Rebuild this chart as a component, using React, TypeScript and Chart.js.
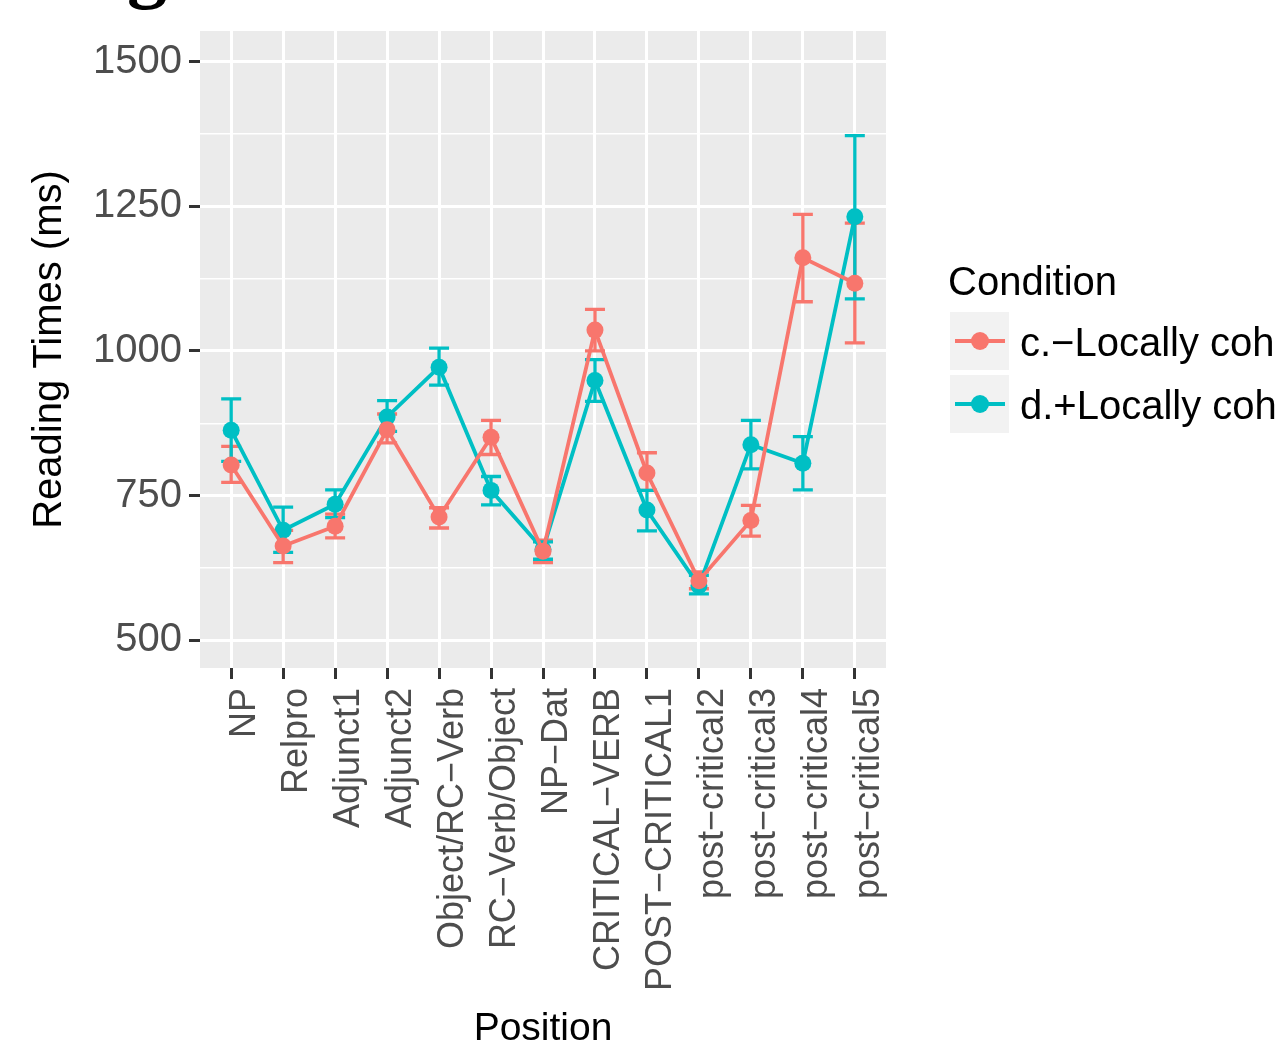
import React, { useEffect, useRef } from 'react';
import { Chart, registerables } from 'chart.js';

Chart.register(...registerables);

const categories = [
  'NP', 'Relpro', 'Adjunct1', 'Adjunct2', 'Object/RC\u2212Verb', 'RC\u2212Verb/Object', 'NP\u2212Dat',
  'CRITICAL\u2212VERB', 'POST\u2212CRITICAL1', 'post\u2212critical2', 'post\u2212critical3', 'post\u2212critical4', 'post\u2212critical5',
];
const seriesNames = ['c.\u2212Locally coh', 'd.+Locally coh'];
const legendTitle = 'Condition';

const redMean = [803, 663, 697, 864, 713, 851, 654, 1036, 789, 603, 707, 1161, 1117];
const redLow = [773, 634, 677, 841, 694, 821, 634, 1000, 759, 589, 680, 1085, 1014];
const redHigh = [835, 690, 718, 891, 729, 880, 673, 1072, 824, 618, 733, 1236, 1221];

const tealMean = [863, 690, 735, 886, 972, 759, 657, 949, 725, 594, 838, 806, 1232];
const tealLow = [809, 652, 712, 861, 941, 734, 640, 913, 689, 580, 796, 760, 1090];
const tealHigh = [917, 730, 760, 914, 1005, 783, 670, 985, 759, 612, 880, 852, 1372];

const yTicks = [500, 625, 750, 875, 1000, 1125, 1250, 1375, 1500];
const yMajor = [500, 750, 1000, 1250, 1500];

const RED = '#F8766D';
const TEAL = '#00BFC4';
const FONT = '"Liberation Sans", Arial, sans-serif';

const panelBg = {
  id: 'panelBg',
  beforeDraw(chart: any) {
    const { ctx, chartArea: a } = chart;
    ctx.save();
    ctx.fillStyle = '#EBEBEB';
    ctx.fillRect(a.left, a.top, a.right - a.left, a.bottom - a.top);
    ctx.restore();
  },
};

const errorBars = {
  id: 'errorBars',
  beforeDatasetsDraw(chart: any) {
    const { ctx } = chart;
    const x = chart.scales.x;
    const y = chart.scales.y;
    const sets: [number[], number[], string][] = [
      [redLow, redHigh, RED],
      [tealLow, tealHigh, TEAL],
    ];
    ctx.save();
    ctx.lineWidth = 3.3;
    sets.forEach(([lo, hi, col]) => {
      ctx.strokeStyle = col;
      lo.forEach((l, i) => {
        const px = x.getPixelForValue(i);
        const y1 = y.getPixelForValue(l);
        const y2 = y.getPixelForValue(hi[i]);
        ctx.beginPath();
        ctx.moveTo(px, y1);
        ctx.lineTo(px, y2);
        ctx.moveTo(px - 10, y1);
        ctx.lineTo(px + 10, y1);
        ctx.moveTo(px - 10, y2);
        ctx.lineTo(px + 10, y2);
        ctx.stroke();
      });
    });
    ctx.restore();
  },
};

const legendAndExtras = {
  id: 'legendAndExtras',
  afterDraw(chart: any) {
    const { ctx } = chart;
    ctx.save();
    // cut-off heading glyph at the top left
    ctx.fillStyle = '#000';
    ctx.font = 'bold 80px "Liberation Serif", serif';
    ctx.textBaseline = 'alphabetic';
    ctx.textAlign = 'left';
    ctx.fillText('g', 127, -7);

    ctx.font = `40px ${FONT}`;
    ctx.fillText(legendTitle, 948, 295);
    const rows = [
      { y0: 312, color: RED, label: seriesNames[0] },
      { y0: 375, color: TEAL, label: seriesNames[1] },
    ];
    rows.forEach((r) => {
      ctx.fillStyle = '#F2F2F2';
      ctx.fillRect(950, r.y0, 59, 58);
      const cy = r.y0 + 29;
      ctx.strokeStyle = r.color;
      ctx.lineWidth = 3.8;
      ctx.beginPath();
      ctx.moveTo(955, cy);
      ctx.lineTo(1005, cy);
      ctx.stroke();
      ctx.fillStyle = r.color;
      ctx.beginPath();
      ctx.arc(980, cy, 9, 0, Math.PI * 2);
      ctx.fill();
      ctx.fillStyle = '#000';
      ctx.font = `40px ${FONT}`;
      ctx.fillText(r.label, 1020, cy + 15);
    });
    ctx.restore();
  },
};

export default function App() {
  const ref = useRef<HTMLCanvasElement | null>(null);

  useEffect(() => {
    if (!ref.current) return;
    const mk = (vals: number[]) => vals.map((v, i) => ({ x: i, y: v }));
    const chart = new Chart(ref.current, {
      type: 'line',
      data: {
        datasets: [
          {
            label: seriesNames[0],
            data: mk(redMean),
            borderColor: RED,
            backgroundColor: RED,
            borderWidth: 3.8,
            pointRadius: 8.5,
            pointBorderWidth: 0,
            pointBackgroundColor: RED,
            tension: 0,
          },
          {
            label: seriesNames[1],
            data: mk(tealMean),
            borderColor: TEAL,
            backgroundColor: TEAL,
            borderWidth: 3.8,
            pointRadius: 8.5,
            pointBorderWidth: 0,
            pointBackgroundColor: TEAL,
            tension: 0,
          },
        ],
      },
      options: {
        responsive: false,
        maintainAspectRatio: false,
        animation: false,
        devicePixelRatio: 1,
        layout: { padding: { top: 30, right: 392, left: 0, bottom: 0 } },
        plugins: { legend: { display: false }, tooltip: { enabled: false } },
        scales: {
          x: {
            type: 'linear',
            min: -0.6,
            max: 12.6,
            afterBuildTicks: (s: any) => {
              s.ticks = categories.map((_, i) => ({ value: i }));
            },
            afterFit: (s: any) => {
              s.height = 376;
            },
            ticks: {
              autoSkip: false,
              maxRotation: 90,
              minRotation: 90,
              padding: 9,
              labelOffset: 14,
              color: '#4D4D4D',
              font: { family: FONT, size: 36 },
              callback: (v: any) => categories[Math.round(Number(v))] ?? '',
            },
            grid: {
              color: '#FFFFFF',
              lineWidth: 3,
              tickLength: 11,
              tickColor: '#333333',
              tickWidth: 3,
            },
            border: { display: false },
            title: {
              display: true,
              text: 'Position',
              color: '#000000',
              font: { family: FONT, size: 39, lineHeight: 1 },
              padding: { top: 0, bottom: -5 },
            },
          },
          y: {
            type: 'linear',
            min: 452,
            max: 1553,
            afterBuildTicks: (s: any) => {
              s.ticks = yTicks.map((v) => ({ value: v }));
            },
            afterFit: (s: any) => {
              s.width = 200;
            },
            ticks: {
              autoSkip: false,
              padding: 7,
              color: '#4D4D4D',
              font: { family: FONT, size: 40 },
              callback: (v: any) => (yMajor.includes(Number(v)) ? String(v) : ''),
            },
            grid: {
              color: '#FFFFFF',
              lineWidth: (c: any) => (c.tick && yMajor.includes(c.tick.value) ? 3 : 1.5),
              tickLength: 11,
              tickWidth: 3,
              tickColor: (c: any) => (c.tick && yMajor.includes(c.tick.value) ? '#333333' : 'rgba(0,0,0,0)'),
            },
            border: { display: false },
            title: {
              display: true,
              text: 'Reading Times (ms)',
              color: '#000000',
              font: { family: FONT, size: 40, lineHeight: 1.2 },
              padding: { top: 26, bottom: 0 },
            },
          },
        },
      } as any,
      plugins: [panelBg, errorBars, legendAndExtras],
    });
    return () => chart.destroy();
  }, []);

  return (
    <div style={{ position: 'absolute', left: 0, top: 0, width: 1278, height: 1044 }}>
      <canvas ref={ref} width={1278} height={1044} style={{ display: 'block' }} />
    </div>
  );
}
